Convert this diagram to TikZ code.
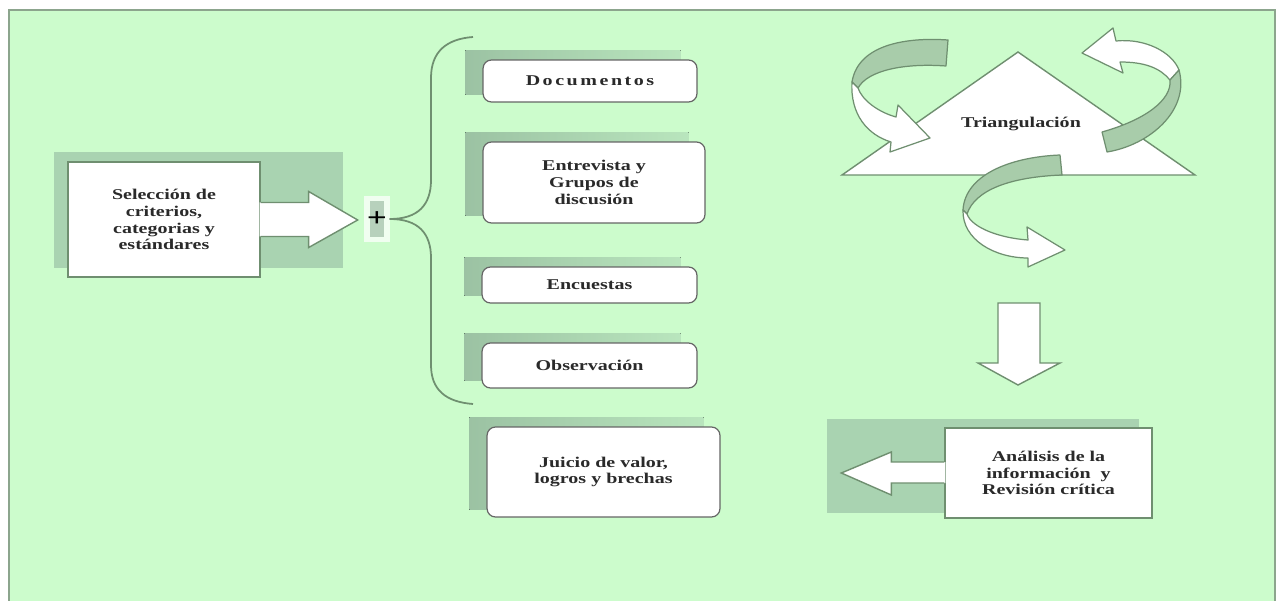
\documentclass[tikz,border=0pt]{standalone}
\usepackage{fontspec}
\newfontfamily\boxfont{Liberation Serif}[FakeStretch=1.34]
\pgfdeclarelayer{backdrop}
\pgfdeclarelayer{shadow}
\pgfsetlayers{backdrop,shadow,main}
\definecolor{bggreen}{HTML}{CCFCCC}
\definecolor{shadegreen}{HTML}{A9D3B1}
\definecolor{bandgreen}{HTML}{A8CCAA}
\definecolor{edgegreen}{HTML}{6F8F70}
\definecolor{textgray}{HTML}{2A2A2A}
\tikzset{
  txt/.style={font={\boxfont\bfseries\fontsize{8.5}{9.6}\selectfont}, text=textgray, align=center},
  selbox/.style={txt, draw=edgegreen, fill=white, line width=0.8pt, inner sep=0pt},
  srcbox/.style={txt, draw=black!60, fill=white, line width=0.7pt, rounded corners=0.17cm, inner sep=0pt},
  boxshadow/.style={left color=black!8!shadegreen, right color=shadegreen!55!bggreen},
  blockshadow/.style={fill=shadegreen},
  boxline/.style={draw=edgegreen, line width=0.8pt},
  ribbon/.style={draw=edgegreen, line width=0.7pt, line join=round},
  bracel/.style={draw=edgegreen, line width=1pt},
  plusbox/.style={fill=black!10!shadegreen!70!white, draw=white!70!bggreen, line width=3pt,
    minimum width=0.38cm, minimum height=0.82cm, inner sep=0pt,
    font={\boxfont\bfseries\fontsize{15}{15}\selectfont}}
}

\begin{document}
\begin{tikzpicture}[x=0.02cm,y=-0.02cm]
    \useasboundingbox (0,0) rectangle (1278,601);
    \begin{pgfonlayer}{backdrop}
    \fill[bggreen] (9,10) rectangle (1275,601);
    \draw[edgegreen!80, line width=0.8pt] (9,601) -- (9,10) -- (1275,10) -- (1275,601);
    \end{pgfonlayer}

    % left block with arrow
    \node[selbox, minimum width=3.84cm, minimum height=2.3cm] (sel) at (164,219.5)
        {Selección de\\criterios,\\categorias y\\estándares};
    \fill[white, shift={(sel.east)}] (-1,-17) -- (48,-17) -- (48,-28) -- (97,0.5) -- (48,28) -- (48,17) -- (-1,17) -- cycle;
    \draw[boxline, shift={(sel.east)}] (0,-17) -- (48,-17) -- (48,-28) -- (97,0.5) -- (48,28) -- (48,17) -- (0,17);

    % plus and brace
    \node[plusbox] (plus) at (377,219) {+};
    \draw[bracel] (plus.east) .. controls (418,219) and (431,205) .. (431,180) -- (431,78) .. controls (431,52) and (446,39) .. (473,37);
    \draw[bracel] (plus.east) .. controls (418,219) and (431,233) .. (431,258) -- (431,365) .. controls (431,390) and (446,402) .. (473,404);

    % sources
    \node[srcbox, minimum width=4.28cm, minimum height=0.84cm] (doc) at (590,81) {\addfontfeatures{LetterSpace=17}Documentos};
    \node[srcbox, minimum width=4.44cm, minimum height=1.62cm] (ent) at (594,182.5) {Entrevista y\\Grupos de\\discusión};
    \node[srcbox, minimum width=4.3cm, minimum height=0.72cm] (enc) at (589.5,285) {Encuestas};
    \node[srcbox, minimum width=4.3cm, minimum height=0.9cm] (obs) at (589.5,365.5) {Observación};
    \node[srcbox, minimum width=4.66cm, minimum height=1.8cm] (jui) at (603.5,472) {Juicio de valor,\\logros y brechas};

    \begin{pgfonlayer}{shadow}
    \fill[blockshadow] ([shift={(-13,-9)}]sel.north west) rectangle ([shift={(82,-10)}]sel.south east);
    \foreach \b in {doc,ent,enc,obs,jui}
        \fill[boxshadow] ([shift={(-17,-9)}]\b.north west) rectangle ([shift={(-17,-8)}]\b.south east);
    \end{pgfonlayer}

    % triangulation
    \draw[boxline, fill=white] (1018,52) -- (1195,175) -- (842,175) -- cycle;
    % ribbon top left
    \filldraw[ribbon, fill=bandgreen] (948,40) .. controls (905,37) and (858,45) .. (852,82) -- (858,88) .. controls (868,70) and (905,63) .. (946,66) -- cycle;
    \filldraw[ribbon, fill=white] (852,82) .. controls (850,115) and (868,135) .. (891,142) -- (890,152) -- (930,138) -- (898,105) -- (896,117) .. controls (878,112) and (862,100) .. (858,88) -- cycle;
    % ribbon top right
    \filldraw[ribbon, fill=white] (1116,41) .. controls (1145,38) and (1172,52) .. (1179,70) -- (1170,80) .. controls (1160,68) and (1145,62) .. (1120,62) -- (1123,73) -- (1082,53) -- (1113,28) -- cycle;
    \filldraw[ribbon, fill=bandgreen] (1179,70) .. controls (1190,110) and (1150,145) .. (1107,152) -- (1102,132) .. controls (1145,120) and (1172,100) .. (1170,80) -- cycle;
    % ribbon bottom
    \filldraw[ribbon, fill=bandgreen] (1060,155) .. controls (1010,157) and (965,175) .. (963,210) -- (967,214) .. controls (975,190) and (1010,177) .. (1062,175) -- cycle;
    \filldraw[ribbon, fill=white] (963,210) .. controls (962,240) and (995,258) .. (1028,258) -- (1028,267) -- (1065,250) -- (1027,227) -- (1028,240) .. controls (1000,238) and (972,228) .. (967,214) -- cycle;
    \node[txt] (tri) at (1021,124) {Triangulación};

    % down arrow
    \filldraw[boxline, fill=white] (998,303) -- (1040,303) -- (1040,363) -- (1060,363) -- (1018,385) -- (978,363) -- (998,363) -- cycle;

    % analysis block with arrow
    \node[selbox, minimum width=4.14cm, minimum height=1.8cm] (ana) at (1048.5,473)
        {Análisis de la\\información~ y\\Revisión crítica};
    \begin{pgfonlayer}{shadow}
    \fill[blockshadow] ([shift={(-117,-8)}]ana.north west) rectangle ([shift={(-14,-6)}]ana.south east);
    \end{pgfonlayer}
    \fill[white, shift={(ana.west)}] (1,-11) -- (-53,-11) -- (-53,-21) -- (-103,0) -- (-53,22) -- (-53,10) -- (1,10) -- cycle;
    \draw[boxline, shift={(ana.west)}] (0,-11) -- (-53,-11) -- (-53,-21) -- (-103,0) -- (-53,22) -- (-53,10) -- (0,10);
\end{tikzpicture}
\end{document}
